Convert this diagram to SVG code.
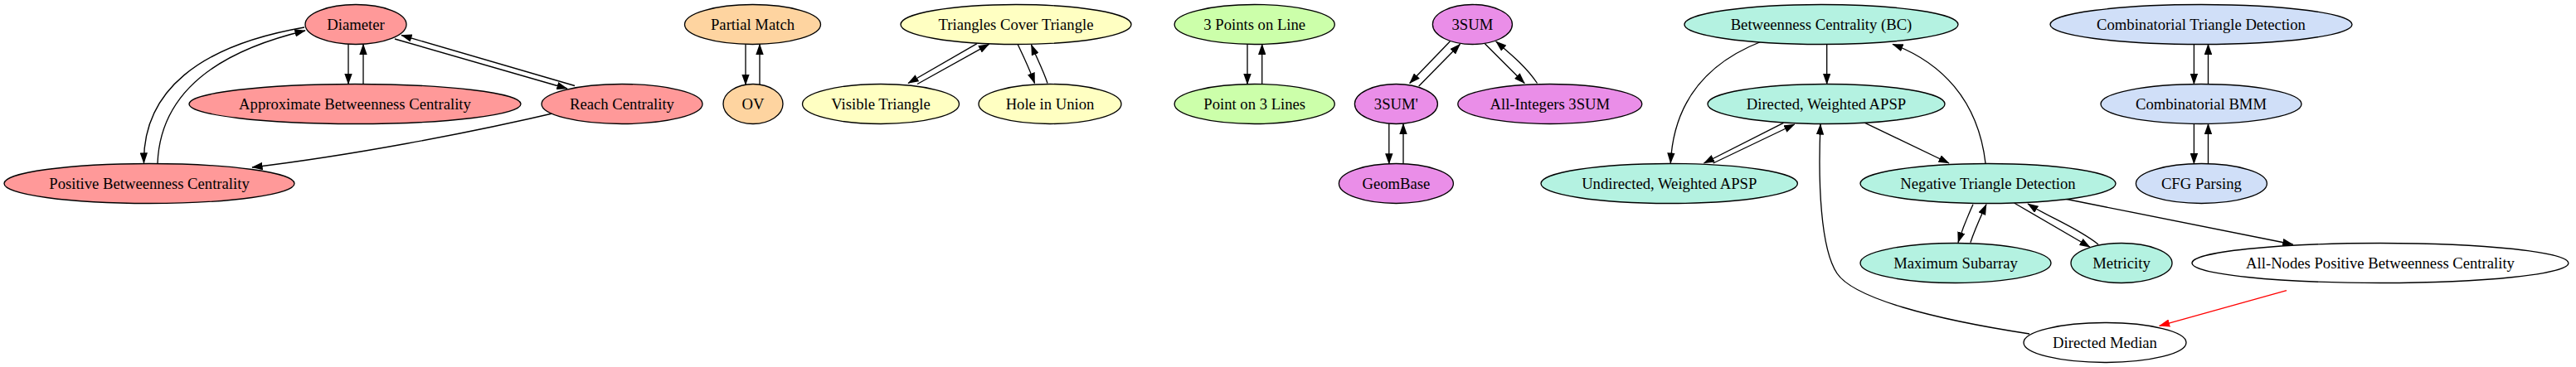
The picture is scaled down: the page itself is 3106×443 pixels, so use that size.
<svg xmlns="http://www.w3.org/2000/svg" width="3106" height="443" viewBox="0 0 3106 443">
<defs>
<marker id="ah" viewBox="0 0 13.3 9.4" refX="12.6" refY="4.7" markerUnits="userSpaceOnUse" markerWidth="13.3" markerHeight="9.4" orient="auto">
<path d="M0,0 L13.3,4.7 L0,9.4 z" fill="#000"/>
</marker>
<marker id="ahr" viewBox="0 0 13.3 9.4" refX="12.6" refY="4.7" markerUnits="userSpaceOnUse" markerWidth="13.3" markerHeight="9.4" orient="auto">
<path d="M0,0 L13.3,4.7 L0,9.4 z" fill="#ff0000"/>
</marker>
</defs>
<style>
.n ellipse{stroke:#000;stroke-width:1.33}
.n text{font-family:"Liberation Serif","Times New Roman",serif;font-size:18.67px;text-anchor:middle;fill:#000}
.red ellipse{fill:#ff9999}
.org ellipse{fill:#fed4a0}
.yel ellipse{fill:#ffffc2}
.grn ellipse{fill:#ccffaa}
.mag ellipse{fill:#ea8ee8}
.tea ellipse{fill:#b4f2e1}
.blu ellipse{fill:#d0dff8}
.wht ellipse{fill:#ffffff}
#edges path{fill:none;stroke:#000;stroke-width:1.33;marker-end:url(#ah)}
#edges path.r{stroke:#ff0000;marker-end:url(#ahr)}
</style>
<rect width="3106" height="443" fill="#fff"/>
<g id="edges">
<path d="M420,53.2 L420,101.5"/>
<path d="M438,101.5 L438,53.3"/>
<path d="M476,47 L684,107"/>
<path d="M693,103.5 L484,42.5"/>
<path d="M367,33 C 240,55 172,110 173.5,197"/>
<path d="M190,197 C 193,120 250,65 368,37"/>
<path d="M679,134 C 560,162 420,188 304,202"/>
<path d="M899,53.2 L899,102.3"/>
<path d="M916,102.3 L916,53.3"/>
<path d="M1178,52.7 L1095,100.5"/>
<path d="M1106,101.5 L1192.5,53.3"/>
<path d="M1227,53.3 C 1235,70 1242,85 1247.5,100.5"/>
<path d="M1263,100.5 C 1258,85 1250,70 1243.5,54"/>
<path d="M1504,53.2 L1504,101.7"/>
<path d="M1521.7,101.7 L1521.7,53.3"/>
<path d="M1748.3,50 L1699.7,100.5"/>
<path d="M1710.7,104 L1760.5,53.3"/>
<path d="M1790.4,52.7 L1838.2,100.5"/>
<path d="M1853.5,100.5 C 1840,80 1820,64 1803.7,50"/>
<path d="M1674.8,149.3 L1674.8,197.8"/>
<path d="M1692,197.8 L1692,149.3"/>
<path d="M2202.7,53.5 L2202.7,101.5"/>
<path d="M2124,50 C 2060,75 2018,120 2014.3,197"/>
<path d="M2150.4,148.3 L2054.5,197"/>
<path d="M2065.6,197 L2163.8,150"/>
<path d="M2248.7,148.3 L2350,197"/>
<path d="M2394,197 C 2385,120 2340,75 2282,53.3"/>
<path d="M2379,246.7 C 2372,262 2366,277 2361,292.7"/>
<path d="M2375.9,292.7 C 2381,277 2388,262 2395,246.7"/>
<path d="M2428.6,245 L2520,298.3"/>
<path d="M2530,295 C 2505,275 2470,262 2445,246"/>
<path d="M2489.7,240 L2764.7,295"/>
<path class="r" d="M2757,350.6 L2603.6,393.3"/>
<path d="M2447,403 C 2330,385 2235,360 2215,330 C 2195,300 2192,220 2195,150"/>
<path d="M2645.4,53.3 L2645.4,101.5"/>
<path d="M2662.5,101.7 L2662.5,53.3"/>
<path d="M2645.4,149.3 L2645.4,197.7"/>
<path d="M2662.5,197.7 L2662.5,149.4"/>
</g>
<g id="n-diameter" class="n red"><ellipse cx="429" cy="29.5" rx="61" ry="24"/><text x="429" y="35.5">Diameter</text></g>
<g id="n-abc" class="n red"><ellipse cx="428" cy="125.5" rx="200" ry="24"/><text x="428" y="131.5">Approximate Betweenness Centrality</text></g>
<g id="n-reach" class="n red"><ellipse cx="750" cy="125.5" rx="97" ry="24"/><text x="750" y="131.5">Reach Centrality</text></g>
<g id="n-pbc" class="n red"><ellipse cx="180" cy="221.5" rx="175" ry="24"/><text x="180" y="227.5">Positive Betweenness Centrality</text></g>
<g id="n-pm" class="n org"><ellipse cx="907.5" cy="29.5" rx="82" ry="24"/><text x="907.5" y="35.5">Partial Match</text></g>
<g id="n-ov" class="n org"><ellipse cx="908" cy="125.5" rx="36" ry="24"/><text x="908" y="131.5">OV</text></g>
<g id="n-tct" class="n yel"><ellipse cx="1225" cy="29.5" rx="139" ry="24"/><text x="1225" y="35.5">Triangles Cover Triangle</text></g>
<g id="n-vt" class="n yel"><ellipse cx="1062" cy="125.5" rx="94.5" ry="24"/><text x="1062" y="131.5">Visible Triangle</text></g>
<g id="n-hiu" class="n yel"><ellipse cx="1266" cy="125.5" rx="86" ry="24"/><text x="1266" y="131.5">Hole in Union</text></g>
<g id="n-3pl" class="n grn"><ellipse cx="1512.7" cy="29.5" rx="96.6" ry="24"/><text x="1512.7" y="35.5">3 Points on Line</text></g>
<g id="n-p3l" class="n grn"><ellipse cx="1512.7" cy="125.5" rx="96.6" ry="24"/><text x="1512.7" y="131.5">Point on 3 Lines</text></g>
<g id="n-3sum" class="n mag"><ellipse cx="1775.4" cy="29.5" rx="48" ry="24"/><text x="1775.4" y="35.5">3SUM</text></g>
<g id="n-3sump" class="n mag"><ellipse cx="1683.4" cy="125.5" rx="50" ry="24"/><text x="1683.4" y="131.5">3SUM'</text></g>
<g id="n-ai3" class="n mag"><ellipse cx="1868.8" cy="125.5" rx="111" ry="24"/><text x="1868.8" y="131.5">All-Integers 3SUM</text></g>
<g id="n-gb" class="n mag"><ellipse cx="1683.4" cy="221.5" rx="69" ry="24"/><text x="1683.4" y="227.5">GeomBase</text></g>
<g id="n-bc" class="n tea"><ellipse cx="2196" cy="29.5" rx="165" ry="24"/><text x="2196" y="35.5">Betweenness Centrality (BC)</text></g>
<g id="n-dw" class="n tea"><ellipse cx="2202" cy="125.5" rx="143" ry="24"/><text x="2202" y="131.5">Directed, Weighted APSP</text></g>
<g id="n-uw" class="n tea"><ellipse cx="2012.7" cy="221.5" rx="154.7" ry="24"/><text x="2012.7" y="227.5">Undirected, Weighted APSP</text></g>
<g id="n-ntd" class="n tea"><ellipse cx="2397" cy="221.5" rx="154" ry="24"/><text x="2397" y="227.5">Negative Triangle Detection</text></g>
<g id="n-ms" class="n tea"><ellipse cx="2358" cy="317.5" rx="115" ry="24"/><text x="2358" y="323.5">Maximum Subarray</text></g>
<g id="n-met" class="n tea"><ellipse cx="2558" cy="317.5" rx="61" ry="24"/><text x="2558" y="323.5">Metricity</text></g>
<g id="n-anpbc" class="n wht"><ellipse cx="2870" cy="317.5" rx="227" ry="24"/><text x="2870" y="323.5">All-Nodes Positive Betweenness Centrality</text></g>
<g id="n-dm" class="n wht"><ellipse cx="2538" cy="413.5" rx="98" ry="24"/><text x="2538" y="419.5">Directed Median</text></g>
<g id="n-ctd" class="n blu"><ellipse cx="2654" cy="29.5" rx="182" ry="24"/><text x="2654" y="35.5">Combinatorial Triangle Detection</text></g>
<g id="n-cbmm" class="n blu"><ellipse cx="2654" cy="125.5" rx="121" ry="24"/><text x="2654" y="131.5">Combinatorial BMM</text></g>
<g id="n-cfg" class="n blu"><ellipse cx="2654.4" cy="221.5" rx="79" ry="24"/><text x="2654.4" y="227.5">CFG Parsing</text></g>
</svg>
